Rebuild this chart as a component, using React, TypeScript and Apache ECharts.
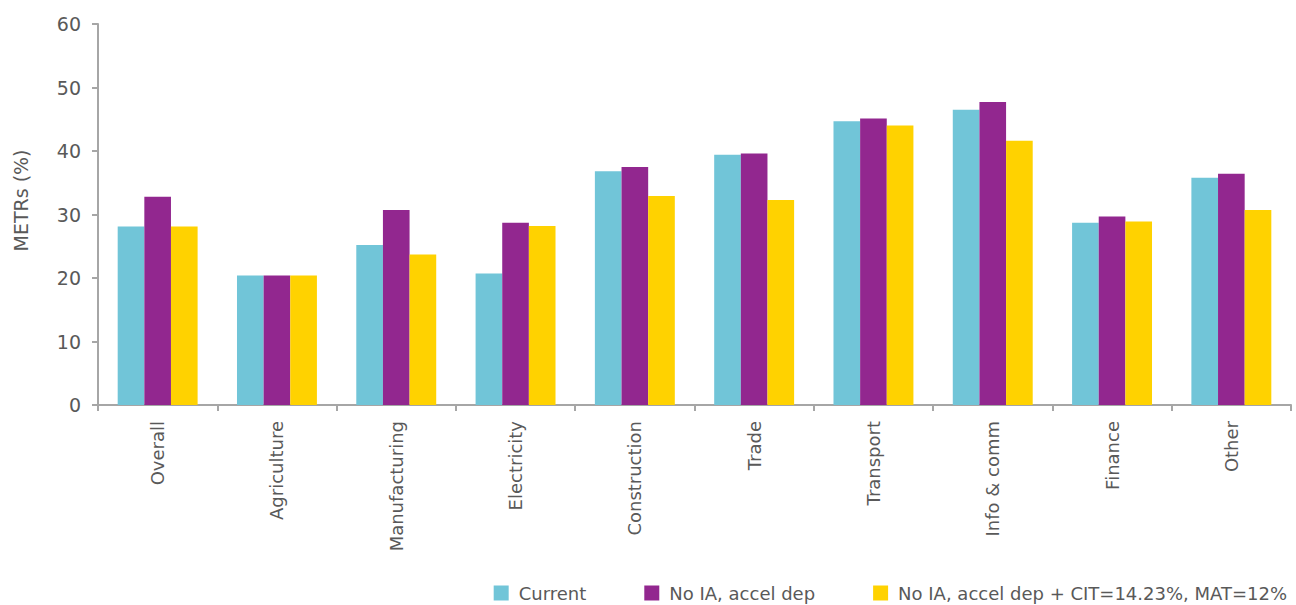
import React, { useEffect, useRef } from "react";
import * as echarts from "echarts";

const categories = ["Overall", "Agriculture", "Manufacturing", "Electricity", "Construction", "Trade", "Transport", "Info & comm", "Finance", "Other"];
const current = [28.1, 20.4, 25.2, 20.7, 36.8, 39.4, 44.7, 46.5, 28.7, 35.8];
const noIA = [32.8, 20.4, 30.7, 28.7, 37.5, 39.6, 45.1, 47.7, 29.7, 36.4];
const noIACit = [28.1, 20.4, 23.7, 28.2, 32.9, 32.3, 44.0, 41.6, 28.9, 30.7];
const seriesNames = ["Current", "No IA, accel dep", "No IA, accel dep + CIT=14.23%, MAT=12%"];
const colors = ["#71C5D8", "#92278F", "#FFD200"];

const FONT = "DejaVu Sans";
const TXT = "#595959";

export default function App() {
  const ref = useRef<HTMLDivElement>(null);
  useEffect(() => {
    const chart = echarts.init(ref.current!, null, { renderer: "svg" });
    const data = [current, noIA, noIACit];
    chart.setOption({
      animation: false,
      textStyle: { fontFamily: FONT },
      grid: { left: 98, right: 5, top: 24, bottom: 200, containLabel: false },
      legend: {
        bottom: -2,
        right: 4,
        itemWidth: 15,
        itemHeight: 15,
        itemGap: 58,
        icon: "rect",
        textStyle: { color: TXT, fontSize: 18, fontFamily: FONT, padding: [0, 0, 0, 5] },
        data: seriesNames,
      },
      xAxis: {
        type: "category",
        data: categories,
        axisLine: { lineStyle: { color: "#A6A6A6", width: 2 } },
        axisTick: { show: true, length: 6, lineStyle: { color: "#A6A6A6", width: 2 } },
        axisLabel: { rotate: 90, color: TXT, fontSize: 18, fontFamily: FONT, margin: 16 },
      },
      yAxis: {
        type: "value",
        min: 0,
        max: 60,
        interval: 10,
        name: "METRs (%)",
        nameLocation: "middle",
        nameGap: 68,
        nameTextStyle: { color: TXT, fontSize: 19, fontFamily: FONT, padding: [0, 0, 0, 28] },
        axisLine: { show: true, lineStyle: { color: "#A6A6A6", width: 2 } },
        axisTick: { show: true, length: 6, lineStyle: { color: "#A6A6A6", width: 2 } },
        splitLine: { show: false },
        axisLabel: { color: TXT, fontSize: 19, fontFamily: FONT, margin: 17 },
      },
      series: seriesNames.map((n, i) => ({
        name: n,
        type: "bar",
        data: data[i],
        barGap: "0%",
        barCategoryGap: "33%",
        itemStyle: { color: colors[i] },
      })),
    });
    return () => chart.dispose();
  }, []);
  return <div ref={ref} style={{ width: 1296, height: 605, position: "absolute", left: 0, top: 0 }} />;
}
